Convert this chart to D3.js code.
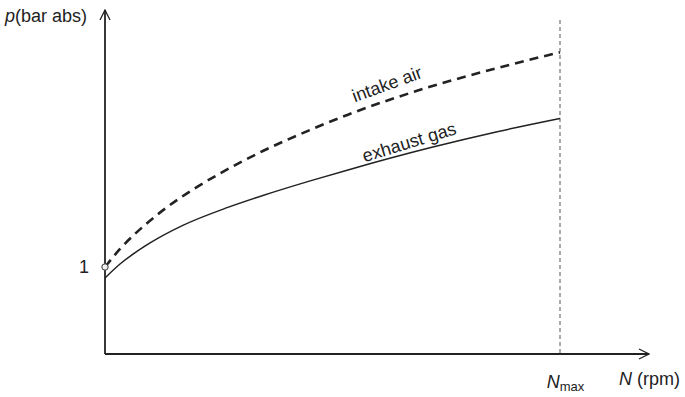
<!DOCTYPE html>
<html>
<head>
<meta charset="utf-8">
<script src="https://cdn.jsdelivr.net/npm/d3@7"></script>
<style>
  html, body { margin: 0; padding: 0; background: #fff; }
  svg { display: block; font-family: "Liberation Sans", Arial, sans-serif; }
</style>
</head>
<body>
<svg id="chart" width="685" height="397"></svg>
<script>
// Relative engine speed N / Nmax
const intakeN  = [0, 0.033, 0.084, 0.136, 0.193, 0.253, 0.347, 0.451, 0.534, 0.714, 0.862, 1.0];
// Intake-air pressure (bar abs)
const intakeP  = [1.0, 1.207, 1.466, 1.686, 1.890, 2.076, 2.333, 2.576, 2.751, 3.071, 3.287, 3.468];
const exhaustN = [0, 0.033, 0.099, 0.171, 0.270, 0.347, 0.451, 0.534, 0.714, 0.862, 1.0];
// Exhaust-gas pressure (bar abs)
const exhaustP = [0.874, 1.034, 1.276, 1.478, 1.685, 1.822, 1.990, 2.116, 2.370, 2.555, 2.707];
const yTicks = [1];
const xTicks = [1];
const yLabel = "(bar abs)";
const xLabel = " (rpm)";

const svg = d3.select("#chart");
const x0 = 105, y0 = 354;
const fs = 18;

const x = d3.scaleLinear().domain([0, 1]).range([x0, 560]);
const y = d3.scaleLinear().domain([0, 1]).range([y0, 267]);

const ink = "#222";

// Axes with open arrowheads
const defs = svg.append("defs");
defs.append("marker")
  .attr("id", "arrow").attr("viewBox", "0 0 12 12")
  .attr("refX", 11).attr("refY", 6)
  .attr("markerWidth", 12).attr("markerHeight", 12)
  .attr("markerUnits", "userSpaceOnUse")
  .attr("orient", "auto")
  .append("path").attr("d", "M1,1 L11,6 L1,11")
  .attr("fill", "none").attr("stroke", ink).attr("stroke-width", 1.3);

svg.append("line")
  .attr("x1", x0).attr("y1", y0).attr("x2", 649).attr("y2", y0)
  .attr("stroke", ink).attr("stroke-width", 1.8).attr("marker-end", "url(#arrow)");
svg.append("line")
  .attr("x1", x0).attr("y1", y0).attr("x2", x0).attr("y2", 10)
  .attr("stroke", ink).attr("stroke-width", 1.8).attr("marker-end", "url(#arrow)");

// Nmax reference line
svg.append("line")
  .attr("x1", x(1)).attr("x2", x(1)).attr("y1", 20).attr("y2", y0)
  .attr("stroke", "#555").attr("stroke-width", 1).attr("stroke-dasharray", "4,3");

// Tick labels from the axis generators
const yAxis = svg.append("g").attr("transform", `translate(${x0 - 13},0)`)
  .call(d3.axisLeft(y).tickValues(yTicks).tickSize(0).tickFormat(d3.format("d")));
const xAxis = svg.append("g").attr("transform", `translate(0,${y0 + 18})`)
  .call(d3.axisBottom(x).tickValues(xTicks).tickSize(0).tickFormat(() => ""));
[yAxis, xAxis].forEach(g => {
  g.select(".domain").remove();
  g.selectAll("text").attr("font-size", fs).attr("fill", ink)
    .attr("font-family", "Liberation Sans, Arial, sans-serif");
});
const nmax = xAxis.select(".tick text").attr("x", 5);
nmax.append("tspan").attr("font-style", "italic").text("N");
nmax.append("tspan").attr("font-size", 13).attr("dy", 3).text("max");

// Axis titles
const yt = svg.append("text").attr("x", 5).attr("y", 22)
  .attr("font-size", fs).attr("fill", ink);
yt.append("tspan").attr("font-style", "italic").text("p");
yt.append("tspan").text(yLabel);

const xt = svg.append("text").attr("x", 619).attr("y", 385)
  .attr("font-size", fs).attr("fill", ink);
xt.append("tspan").attr("font-style", "italic").text("N");
xt.append("tspan").text(xLabel);

// Curves
const line = d3.line().x(d => x(d[0])).y(d => y(d[1])).curve(d3.curveMonotoneX);

svg.append("path")
  .datum(d3.zip(exhaustN, exhaustP))
  .attr("d", line).attr("fill", "none")
  .attr("stroke", ink).attr("stroke-width", 1.5);

svg.append("path")
  .datum(d3.zip(intakeN, intakeP))
  .attr("d", line).attr("fill", "none")
  .attr("stroke", ink).attr("stroke-width", 2.6)
  .attr("stroke-dasharray", "9,6");

// Reference point at 1 bar
svg.append("circle")
  .attr("cx", x(0)).attr("cy", y(1)).attr("r", 3.2)
  .attr("fill", "#eee").attr("stroke", "#333").attr("stroke-width", 1);

// Curve labels
svg.append("text")
  .attr("transform", "translate(389,90) rotate(-20)")
  .attr("text-anchor", "middle").attr("font-size", fs).attr("fill", ink)
  .text("intake air");
svg.append("text")
  .attr("transform", "translate(411,148) rotate(-17)")
  .attr("text-anchor", "middle").attr("font-size", fs).attr("fill", ink)
  .text("exhaust gas");
</script>
</body>
</html>
